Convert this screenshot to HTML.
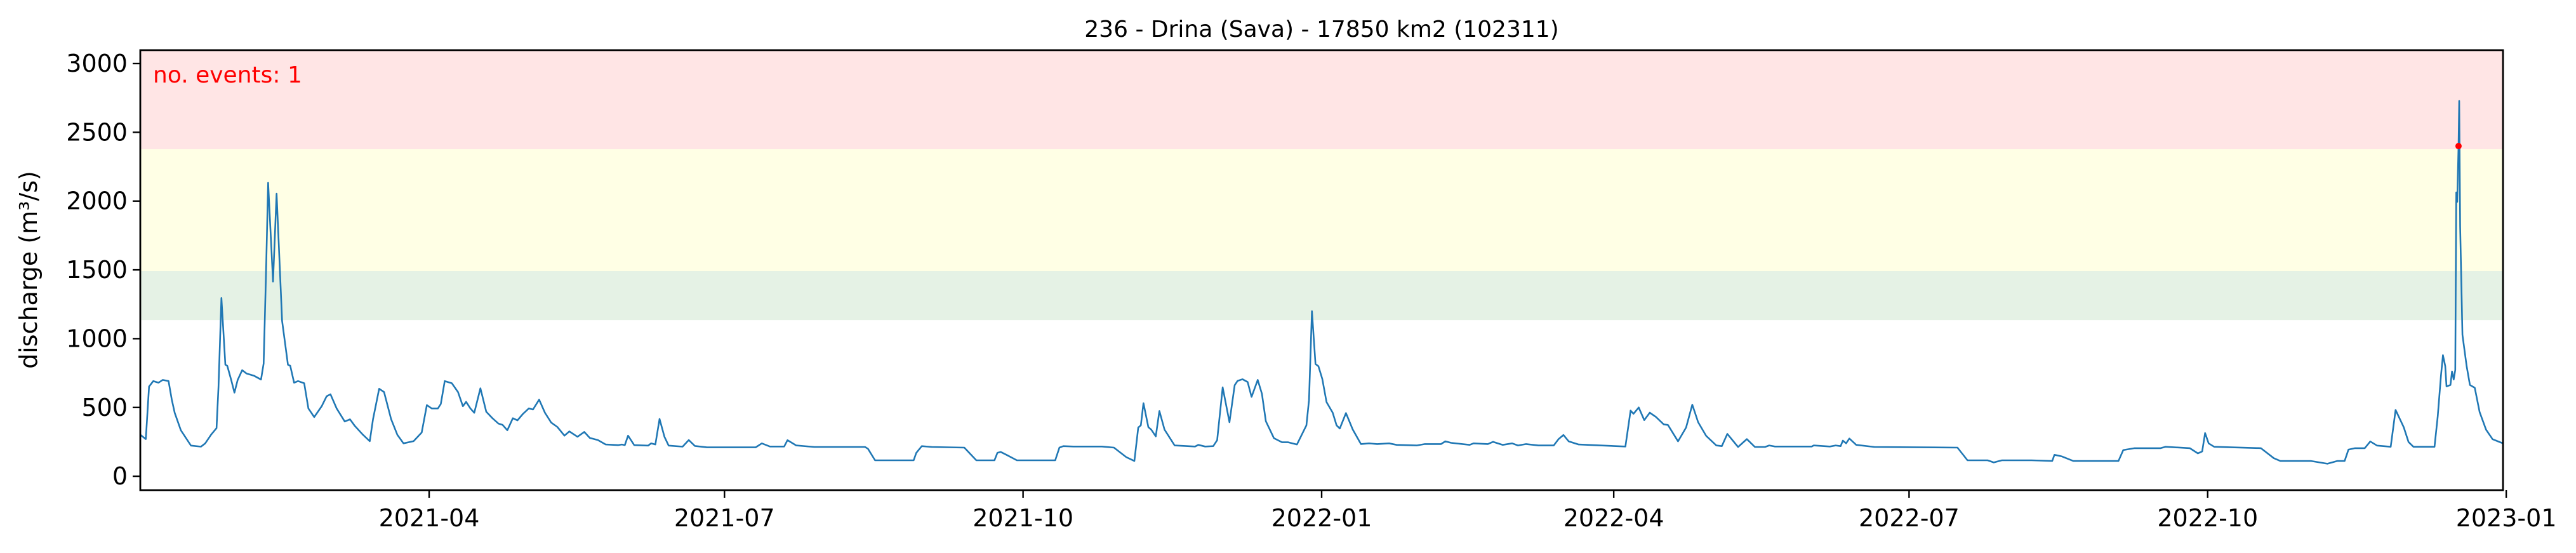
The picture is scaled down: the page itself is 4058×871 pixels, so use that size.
<!DOCTYPE html>
<html><head><meta charset="utf-8">
<style>
html,body{margin:0;padding:0;background:#fff;}
svg{display:block;font-family:"DejaVu Sans","Liberation Sans",sans-serif;}
</style></head>
<body>
<svg id="chart" width="4058" height="871" viewBox="0 0 4058 871" xmlns="http://www.w3.org/2000/svg">
<rect x="0" y="0" width="4058" height="871" fill="#fff"/>
<g id="bands"></g>
<g id="series"></g>
<g id="axes"></g>
<text x="2082" y="58" font-size="36" text-anchor="middle">236 - Drina (Sava) - 17850 km2 (102311)</text>
<text x="0" y="0" font-size="38" text-anchor="middle" transform="translate(58,425) rotate(-90)">discharge (m³/s)</text>
<text x="241" y="130" font-size="36" fill="#ff0000">no. events: 1</text>
</svg>
<script>
// Data: day offsets from 2021-01-02 and discharge values (m3/s)
const dayOffsets = [0,1.7,2.7,4,5.6,6.9,8.7,9.7,10.6,12.5,15.6,18.7,20,21.8,23.5,24.1,25,26.2,26.8,28,29,30,31.4,32.7,35,37.2,38,38.7,39.4,40.9,42,43.7,45.5,46.2,47.4,48.6,50.5,51.8,53.6,55.9,57.4,58.6,60.5,63,64.6,66.1,68.6,70.7,71.7,73.6,75.1,77.3,79.2,81.1,84.2,86.7,88.3,89.8,91.7,92.6,93.8,96,97.9,99.4,100.4,101.7,102.9,104.8,106.6,108.5,110.4,111.6,113.1,114.8,116.2,117.9,119.7,121,122.9,124.7,126.6,128.5,130.7,132.2,134.7,136.8,138.5,141,143.4,147.2,148.4,149.3,150.3,152.2,156.5,157.4,158.7,160,161.5,162.8,167.1,169,170.9,174.6,181.5,189.6,191.5,194,198.4,199.4,202.1,207.7,223.3,224.2,226.4,235.2,238.3,239.1,240.8,243.9,253.9,257.6,263.2,264.1,265.1,267,270.1,281.9,283.2,284.4,287.5,296.3,300,303.8,306.3,307.5,308.3,309.1,310.6,311.5,312.9,314,315.6,318.7,325,326,328.1,330.6,331.8,333.5,335.6,337.2,338.1,339.6,341.2,342.4,344.3,345.6,346.8,349.3,351.8,353.7,356.4,358,359.3,360.1,361,362.1,363,364.2,365.5,367.4,368.6,369.6,371.5,373.6,376.1,378.6,381.1,384.8,387.1,393.3,395.8,400.8,402.1,403.9,409.6,410.8,415.2,416.8,419.8,422.7,424.5,427,430.8,435.5,437,438.5,440.1,443.2,457.6,459.2,460.1,461.7,463.4,465.1,467,469.4,470.7,473.8,476.3,478.2,480,482.5,485.6,487.3,489,492.3,495,497.5,500.6,501.9,503.7,515,515.6,520.6,522.4,523.9,524.6,525.6,526.6,528.7,534.3,559.9,563,569.2,571.1,573.6,582.7,589.1,589.8,592.1,595.6,609.5,611,614.5,622.5,624,631.5,634,635.3,636.2,637.3,639,653.4,657.4,659.4,668.9,673.9,676.9,679.2,680.4,682.4,685.4,687.1,689.2,693.4,694.9,697.4,698.9,700.4,703.4,706.9,707.9,708.9,709.5,710.2,710.6,711.8,712.3,712.8,713.3,713.6,713.9,714.3,714.5,714.8,715.5,716.8,717.8,719.3,720.8,722.8,724.8,728];
const discharge = [302,270,652,692,680,700,692,557,461,334,223,215,239,302,350,650,1296,811,803,700,608,700,771,747,731,703,819,1447,2133,1415,2054,1129,811,803,680,692,676,493,430,509,581,596,493,398,414,366,302,255,414,636,612,414,302,239,255,318,517,493,493,525,692,676,612,509,541,493,461,639,469,422,382,374,334,422,406,453,493,485,557,461,390,358,295,326,287,322,279,263,231,226,231,226,295,226,223,239,231,417,287,223,215,263,220,210,210,210,239,216,216,262,224,213,213,200,116,116,116,170,219,213,208,116,116,170,177,154,116,116,208,219,216,216,208,139,111,354,370,531,357,339,290,474,339,224,216,228,216,219,262,646,393,662,693,705,685,577,700,600,400,277,247,247,231,308,370,554,1200,816,800,708,539,462,370,347,459,339,234,239,234,239,228,224,234,234,254,243,228,239,234,250,228,239,224,234,224,224,270,300,254,231,216,477,454,500,408,462,431,377,373,254,354,520,393,293,224,219,308,213,270,213,213,224,216,216,224,216,224,219,259,239,274,228,213,208,116,116,100,116,116,111,156,144,111,111,190,204,204,214,204,166,180,314,239,214,204,131,111,111,91,111,111,194,204,204,253,223,214,482,357,249,214,214,214,436,732,880,801,653,663,762,703,772,2063,1994,2408,2728,1817,1028,801,663,643,466,338,269,239];
const eventDays = [714.3];
const eventValues = [2400];
const bandLimits = [1135, 1491, 2377, 3097];
const yTicks = [0,500,1000,1500,2000,2500,3000];
const xTickDays = [89,180,272,364,454,545,637,729];
const xTickLabels = ["2021-04","2021-07","2021-10","2022-01","2022-04","2022-07","2022-10","2023-01"];

const NS="http://www.w3.org/2000/svg";
const L=221,R=3943,T=79,B=772;
const xMin=0,xMax=728,yMin=-101,yMax=3097;
function xs(d){return L+(d-xMin)/(xMax-xMin)*(R-L);}
function ys(v){return B-(v-yMin)/(yMax-yMin)*(B-T);}
function mk(tag,attrs,parent){const e=document.createElementNS(NS,tag);for(const k in attrs)e.setAttribute(k,attrs[k]);parent.appendChild(e);return e;}

const bands=document.getElementById('bands');
const bandColors=['#e5f2e5','#ffffe5','#ffe5e5'];
const bandNames=['band-low','band-medium','band-high'];
for(let i=0;i<3;i++){
  const r=mk('rect',{x:L,y:ys(bandLimits[i+1]),width:R-L,height:ys(bandLimits[i])-ys(bandLimits[i+1]),fill:bandColors[i]},bands);
  
  
}

const series=document.getElementById('series');
let d='';
for(let i=0;i<dayOffsets.length;i++){d+=(i?'L':'M')+xs(dayOffsets[i]).toFixed(1)+' '+ys(discharge[i]).toFixed(1);}
const line=mk('path',{d:d,fill:'none',stroke:'#1f77b4','stroke-width':2.6,'stroke-linejoin':'round'},series);


for(let i=0;i<eventDays.length;i++){
  const c=mk('circle',{cx:xs(eventDays[i]),cy:ys(eventValues[i]),r:5,fill:'#ff0000'},series);
  
  
}

const axes=document.getElementById('axes');
const frame=mk('rect',{x:L,y:T,width:R-L,height:B-T,fill:'none',stroke:'#000','stroke-width':2.8},axes);


for(const v of yTicks){
  const y=ys(v);
  const t=mk('line',{x1:L,x2:L-12,y1:y,y2:y,stroke:'#000','stroke-width':2.4},axes);
  
  
  const tx=mk('text',{x:L-20,y:y+13,'font-size':38,'text-anchor':'end'},axes);
  tx.textContent=v;
  
  
}
for(let i=0;i<xTickDays.length;i++){
  const x=xs(xTickDays[i]);
  const t=mk('line',{x1:x,x2:x,y1:B,y2:B+12,stroke:'#000','stroke-width':2.4},axes);
  
  
  const tx=mk('text',{x:x,y:B+57,'font-size':38,'text-anchor':'middle'},axes);
  tx.textContent=xTickLabels[i];
  
  
}
</script>
</body></html>
